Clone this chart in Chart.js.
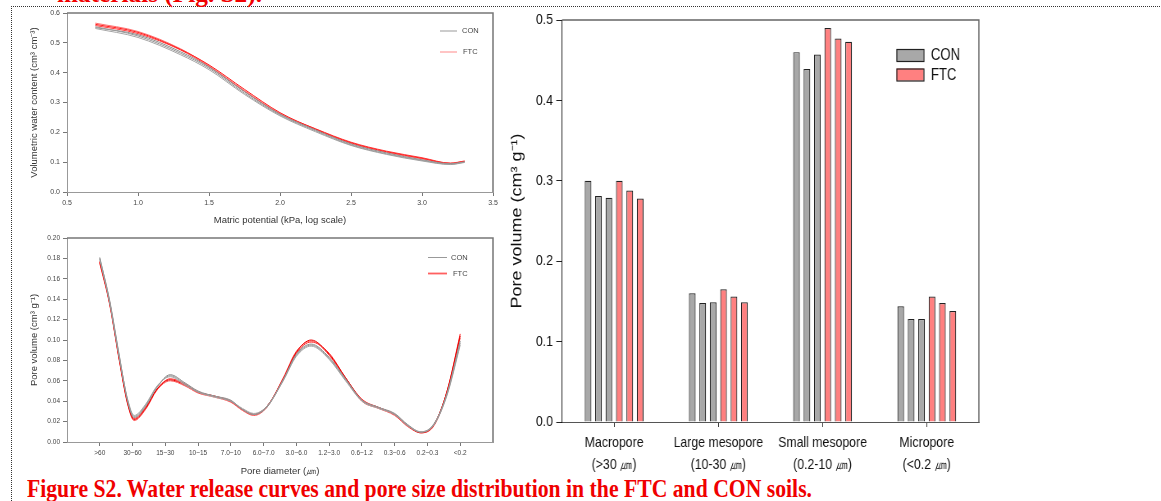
<!DOCTYPE html>
<html>
<head>
<meta charset="utf-8">
<script src="https://cdn.jsdelivr.net/npm/chart.js@4.4.0/dist/chart.umd.min.js"></script>
<style>
body { margin: 0; width: 1161px; height: 501px; overflow: hidden; background: #fff; position: relative; }
canvas { position: absolute; }
#bars { transform: scaleX(0.82); transform-origin: 0 0; }
#frame { position: absolute; left: 11px; top: 6px; width: 1160px; height: 600px; border-top: 1px dotted #333; border-left: 1px dotted #333; }
.caption { position: absolute; font-family: 'Liberation Serif', 'Times New Roman', serif; font-weight: bold; font-size: 26px; line-height: 26px; color: #f00000; white-space: nowrap; transform-origin: 0 0; }
</style>
</head>
<body>
<div id="frame"></div>
<div class="caption" id="topText" style="left:57px; top:-19px">materials (Fig. S2).</div>
<div class="caption" id="caption" style="left:27px; top:476px">Figure S2. Water release curves and pore size distribution in the FTC and CON soils.</div>
<canvas id="wrc" width="510" height="232" style="left:0; top:0"></canvas>
<canvas id="psd" width="510" height="258" style="left:0; top:230px"></canvas>
<canvas id="bars" width="806" height="490" style="left:500px; top:0"></canvas>
<script>
// Water release curves (log kPa vs volumetric water content)
const potential = [0.7, 1.0, 1.3, 1.5, 1.75, 2.0, 2.25, 2.5, 2.75, 3.0, 3.2, 3.3];
const wrcCon1 = [0.554, 0.523, 0.465, 0.415, 0.331, 0.258, 0.205, 0.158, 0.128, 0.106, 0.093, 0.100];
const wrcCon2 = [0.548, 0.518, 0.460, 0.410, 0.327, 0.255, 0.202, 0.156, 0.126, 0.104, 0.092, 0.099];
const wrcCon3 = [0.551, 0.527, 0.470, 0.419, 0.336, 0.261, 0.208, 0.161, 0.131, 0.108, 0.095, 0.101];
const wrcFtc1 = [0.562, 0.535, 0.478, 0.426, 0.344, 0.266, 0.211, 0.165, 0.135, 0.113, 0.096, 0.103];
const wrcFtc2 = [0.566, 0.538, 0.480, 0.423, 0.340, 0.263, 0.209, 0.163, 0.133, 0.111, 0.095, 0.102];
const wrcFtc3 = [0.558, 0.531, 0.476, 0.421, 0.338, 0.262, 0.212, 0.167, 0.137, 0.115, 0.097, 0.104];

// Pore size distribution (position along the pore diameter classes)
const poreLabels = ['>60', '30~60', '15~30', '10~15', '7.0~10', '6.0~7.0', '3.0~6.0', '1.2~3.0', '0.6~1.2', '0.3~0.6', '0.2~0.3', '<0.2'];
const psdPos = [0, 0.3, 0.6, 0.85, 1.05, 1.4, 1.75, 2.15, 2.6, 3, 3.5, 4, 4.35, 4.7, 5.1, 5.6, 6, 6.45, 7, 7.5, 8, 8.5, 9, 9.4, 9.8, 10.2, 10.6, 11];
const psdCon1 = [0.181, 0.138, 0.083, 0.041, 0.025, 0.036, 0.054, 0.065, 0.057, 0.049, 0.045, 0.040, 0.032, 0.027, 0.035, 0.061, 0.085, 0.095, 0.082, 0.061, 0.041, 0.034, 0.027, 0.016, 0.0095, 0.017, 0.047, 0.097];
const psdCon2 = [0.179, 0.137, 0.082, 0.042, 0.026, 0.037, 0.055, 0.064, 0.056, 0.049, 0.044, 0.040, 0.033, 0.028, 0.035, 0.060, 0.084, 0.094, 0.081, 0.060, 0.040, 0.033, 0.027, 0.016, 0.010, 0.017, 0.046, 0.095];
const psdCon3 = [0.180, 0.139, 0.084, 0.040, 0.024, 0.035, 0.054, 0.066, 0.058, 0.050, 0.045, 0.041, 0.032, 0.027, 0.034, 0.061, 0.086, 0.096, 0.083, 0.062, 0.041, 0.034, 0.028, 0.017, 0.010, 0.018, 0.048, 0.099];
const psdFtc1 = [0.177, 0.136, 0.080, 0.038, 0.022, 0.033, 0.052, 0.061, 0.056, 0.049, 0.045, 0.040, 0.032, 0.027, 0.035, 0.062, 0.088, 0.100, 0.086, 0.063, 0.041, 0.034, 0.027, 0.016, 0.009, 0.017, 0.050, 0.104];
const psdFtc2 = [0.175, 0.135, 0.079, 0.037, 0.021, 0.032, 0.051, 0.060, 0.055, 0.048, 0.044, 0.039, 0.031, 0.026, 0.034, 0.063, 0.089, 0.099, 0.085, 0.062, 0.040, 0.033, 0.026, 0.015, 0.009, 0.016, 0.049, 0.102];
const psdFtc3 = [0.176, 0.137, 0.081, 0.039, 0.023, 0.034, 0.052, 0.062, 0.057, 0.049, 0.045, 0.040, 0.032, 0.027, 0.035, 0.061, 0.087, 0.098, 0.087, 0.063, 0.042, 0.034, 0.027, 0.016, 0.0095, 0.017, 0.050, 0.106];

// Pore volume per class (3 CON + 3 FTC replicates)
const poreClasses = [['Macropore', '(>30 ㎛)'], ['Large mesopore', '(10-30 ㎛)'], ['Small mesopore', '(0.2-10 ㎛)'], ['Micropore', '(<0.2 ㎛)']];
const volCon1 = [0.300, 0.160, 0.460, 0.144];
const volCon2 = [0.281, 0.148, 0.439, 0.128];
const volCon3 = [0.279, 0.149, 0.457, 0.128];
const volFtc1 = [0.300, 0.165, 0.490, 0.156];
const volFtc2 = [0.288, 0.156, 0.477, 0.148];
const volFtc3 = [0.278, 0.149, 0.473, 0.138];

const SANS = "'Liberation Sans', Arial, sans-serif";
Chart.defaults.animation = false;
Chart.defaults.font.family = SANS;

// squeeze the red captions to the width they take in the figure
function fitText(id, w) {
    const el = document.getElementById(id);
    el.style.transform = 'scaleX(' + (w / el.getBoundingClientRect().width) + ')';
}
fitText('caption', 785);
fitText('topText', 205);

// top and right sides of the plot box
const framePlugin = {
    id: 'frame',
    afterDraw(chart, args, opts) {
        const { ctx, chartArea: a } = chart;
        ctx.save();
        ctx.strokeStyle = opts.color;
        ctx.lineWidth = opts.width;
        ctx.beginPath();
        ctx.moveTo(a.left, a.top);
        ctx.lineTo(a.right, a.top);
        ctx.lineTo(a.right, a.bottom);
        ctx.stroke();
        ctx.restore();
    }
};

const lineLegend = {
    id: 'lineLegend',
    afterDraw(chart, args, opts) {
        const ctx = chart.ctx;
        ctx.save();
        ctx.font = opts.font;
        ctx.textBaseline = 'middle';
        opts.items.forEach(it => {
            ctx.strokeStyle = it.color;
            ctx.lineWidth = it.width;
            ctx.beginPath();
            ctx.moveTo(it.x1, it.y);
            ctx.lineTo(it.x2, it.y);
            ctx.stroke();
            ctx.fillStyle = opts.textColor;
            ctx.fillText(it.text, it.tx, it.y);
        });
        ctx.restore();
    }
};

const boxLegend = {
    id: 'boxLegend',
    afterDraw(chart, args, opts) {
        const ctx = chart.ctx;
        ctx.save();
        ctx.font = opts.font;
        ctx.textBaseline = 'middle';
        opts.items.forEach(it => {
            ctx.fillStyle = it.color;
            ctx.fillRect(opts.x, it.y, opts.w, opts.h);
            ctx.strokeStyle = '#222';
            ctx.lineWidth = 1.2;
            ctx.strokeRect(opts.x + 0.5, it.y + 0.5, opts.w, opts.h);
            ctx.fillStyle = '#111';
            ctx.fillText(it.text, opts.x + opts.w + 9, it.y + opts.h / 2 + 1);
        });
        ctx.restore();
    }
};

function pairs(xs, ys) {
    return xs.map((x, i) => ({ x: x, y: ys[i] }));
}

function curve(xs, ys, color) {
    return {
        data: pairs(xs, ys),
        borderColor: color,
        borderWidth: 1,
        pointRadius: 0,
        cubicInterpolationMode: 'monotone',
        fill: false
    };
}

const smallTicks = { font: { size: 7 }, color: '#444', padding: 3 };
const smallGrid = { drawOnChartArea: false, tickLength: 4, color: '#777' };

// Water release curve
new Chart(document.getElementById('wrc'), {
    type: 'line',
    data: {
        datasets: [
            curve(potential, wrcCon1, '#9a9a9a'),
            curve(potential, wrcCon2, '#a6a6a6'),
            curve(potential, wrcCon3, '#8e8e8e'),
            curve(potential, wrcFtc1, '#ff2020'),
            curve(potential, wrcFtc2, '#ff7070'),
            curve(potential, wrcFtc3, '#ff4040')
        ]
    },
    options: {
        responsive: false,
        layout: { padding: { top: 13, right: 17, left: 0, bottom: 0 } },
        plugins: {
            legend: { display: false },
            tooltip: { enabled: false },
            frame: { color: '#777', width: 1.5 },
            lineLegend: {
                font: '7.5px ' + SANS,
                textColor: '#444',
                items: [
                    { text: 'CON', color: '#999', width: 1, x1: 440, x2: 457, tx: 462, y: 31 },
                    { text: 'FTC', color: '#ffb0b0', width: 1.5, x1: 440, x2: 457, tx: 463, y: 52 }
                ]
            }
        },
        scales: {
            x: {
                type: 'linear', min: 0.5, max: 3.5,
                afterFit: s => { s.height = 40; },
                ticks: Object.assign({ stepSize: 0.5, callback: v => v.toFixed(1) }, smallTicks),
                grid: smallGrid,
                border: { color: '#999' },
                title: { display: true, text: 'Matric potential (kPa, log scale)', font: { size: 9.5 }, color: '#333', padding: { top: 0, bottom: 6 } }
            },
            y: {
                min: 0, max: 0.6,
                afterFit: s => { s.width = 67; },
                ticks: Object.assign({ stepSize: 0.1, callback: v => v.toFixed(1) }, smallTicks),
                grid: smallGrid,
                border: { color: '#999' },
                title: { display: true, text: 'Volumetric water content (cm³ cm⁻³)', font: { size: 9.5 }, color: '#333', padding: { top: 29, bottom: 0 } }
            }
        }
    },
    plugins: [framePlugin, lineLegend]
});

// Pore size distribution
new Chart(document.getElementById('psd'), {
    type: 'line',
    data: {
        datasets: [
            curve(psdPos, psdCon1, '#9a9a9a'),
            curve(psdPos, psdCon2, '#a6a6a6'),
            curve(psdPos, psdCon3, '#8e8e8e'),
            curve(psdPos, psdFtc1, '#e80000'),
            curve(psdPos, psdFtc2, '#ff5050'),
            curve(psdPos, psdFtc3, '#ff2a2a')
        ]
    },
    options: {
        responsive: false,
        layout: { padding: { top: 8, right: 17, left: 0, bottom: 0 } },
        plugins: {
            legend: { display: false },
            tooltip: { enabled: false },
            frame: { color: '#777', width: 1.5 },
            lineLegend: {
                font: '7.5px ' + SANS,
                textColor: '#444',
                items: [
                    { text: 'CON', color: '#999', width: 1, x1: 428, x2: 447, tx: 451, y: 27.5 },
                    { text: 'FTC', color: '#ff6060', width: 1.8, x1: 428, x2: 447, tx: 453, y: 43.5 }
                ]
            }
        },
        scales: {
            x: {
                type: 'linear', min: -1, max: 12,
                afterFit: s => { s.height = 46; },
                afterBuildTicks: s => { s.ticks = poreLabels.map((l, i) => ({ value: i })); },
                ticks: Object.assign({ autoSkip: false, maxRotation: 0, callback: v => poreLabels[v] }, smallTicks, { font: { size: 6.5 } }),
                grid: smallGrid,
                border: { color: '#999' },
                title: { display: true, text: 'Pore diameter (㎛)', font: { size: 9.5 }, color: '#333', padding: { top: 0, bottom: 11 } }
            },
            y: {
                min: 0, max: 0.2,
                afterFit: s => { s.width = 67; },
                ticks: Object.assign({ stepSize: 0.02, callback: v => v.toFixed(2) }, smallTicks, { font: { size: 6.5 } }),
                grid: smallGrid,
                border: { color: '#999' },
                title: { display: true, text: 'Pore volume (cm³ g⁻¹)', font: { size: 9.5 }, color: '#333', padding: { top: 29, bottom: 0 } }
            }
        }
    },
    plugins: [framePlugin, lineLegend]
});

// Pore volume bars (canvas is drawn wide and squeezed by 0.82 in CSS, like the source figure)
function barSet(values, color) {
    return { data: values, backgroundColor: color, borderColor: '#222', borderWidth: 1.2, borderSkipped: 'bottom' };
}

new Chart(document.getElementById('bars'), {
    type: 'bar',
    data: {
        labels: poreClasses,
        datasets: [
            barSet(volCon1, '#a8a8a8'),
            barSet(volCon2, '#a8a8a8'),
            barSet(volCon3, '#a8a8a8'),
            barSet(volFtc1, '#ff8080'),
            barSet(volFtc2, '#ff8080'),
            barSet(volFtc3, '#ff8080')
        ]
    },
    options: {
        responsive: false,
        layout: { padding: { top: 20, right: 222, left: 0, bottom: 0 } },
        datasets: { bar: { categoryPercentage: 0.6, barPercentage: 0.64 } },
        plugins: {
            legend: { display: false },
            tooltip: { enabled: false },
            frame: { color: '#666', width: 1.5 },
            boxLegend: {
                font: '16px ' + SANS,
                x: 483.5, w: 33, h: 12,
                items: [
                    { text: 'CON', color: '#a8a8a8', y: 49 },
                    { text: 'FTC', color: '#ff8080', y: 68.5 }
                ]
            }
        },
        scales: {
            x: {
                offset: true,
                afterFit: s => { s.height = 68; },
                ticks: { font: { size: 15, lineHeight: 1.45 }, color: '#111', padding: 5, maxRotation: 0, autoSkip: false },
                grid: { offset: false, drawOnChartArea: false, tickLength: 5, color: '#333' },
                border: { color: '#555' }
            },
            y: {
                min: 0, max: 0.5,
                afterFit: s => { s.width = 75.6; },
                ticks: { stepSize: 0.1, callback: v => v.toFixed(1), font: { size: 15 }, color: '#111', padding: 4 },
                grid: { drawOnChartArea: false, tickLength: 7, color: '#222' },
                border: { color: '#111' },
                title: { display: true, text: 'Pore volume (cm³ g⁻¹)', font: { size: 18 }, color: '#111', padding: { top: 10, bottom: 0 } }
            }
        }
    },
    plugins: [framePlugin, boxLegend]
});
</script>
</body>
</html>
